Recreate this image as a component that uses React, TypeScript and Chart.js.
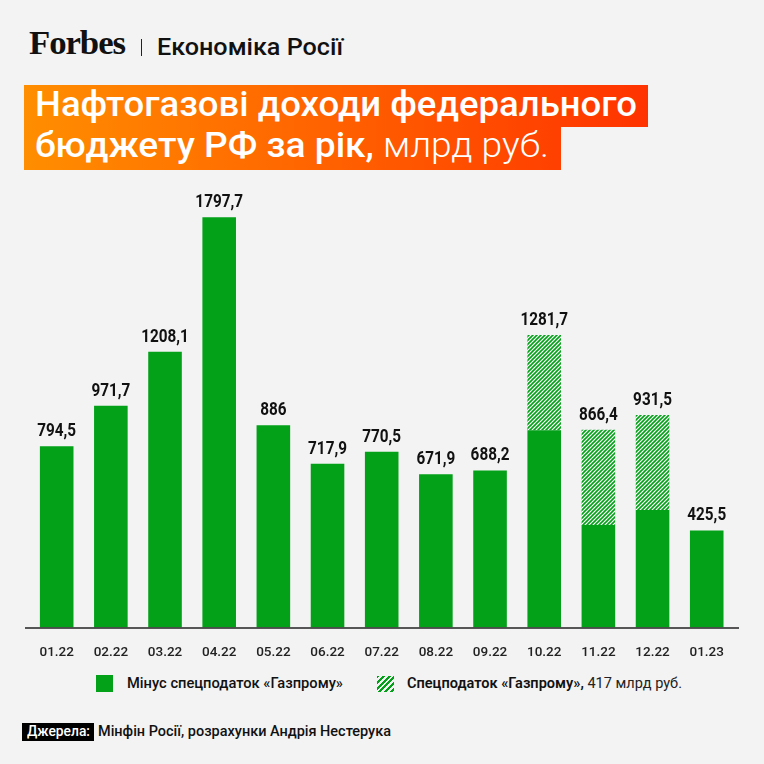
import React, { useEffect, useLayoutEffect, useRef } from "react";
import { Chart, registerables } from "chart.js";

Chart.register(...registerables);

// ---- data ----
const months = ["01.22", "02.22", "03.22", "04.22", "05.22", "06.22", "07.22", "08.22", "09.22", "10.22", "11.22", "12.22", "01.23"];
const minusGazprom = [794.5, 971.7, 1208.1, 1797.7, 886, 717.9, 770.5, 671.9, 688.2, 864.7, 449.4, 514.5, 425.5];
const gazpromTax = [null, null, null, null, null, null, null, null, null, 417, 417, 417, null];
const yMax = 1900;

const GREEN = "#02A118";
const BG = "#F3F3F3";
const FONT = "Roboto, 'Noto Sans', sans-serif";

function fmt(v: number) {
  const r = Math.round(v * 10) / 10;
  return String(r).replace(".", ",");
}

function makePattern(): CanvasPattern | string {
  const s = 4;
  const c = document.createElement("canvas");
  c.width = s;
  c.height = s;
  const g = c.getContext("2d");
  if (!g) return GREEN;
  g.fillStyle = "#ffffff";
  g.fillRect(0, 0, s, s);
  g.strokeStyle = GREEN;
  g.lineWidth = 1.6;
  g.beginPath();
  g.moveTo(-1, s + 1);
  g.lineTo(s + 1, -1);
  g.moveTo(-1, 1);
  g.lineTo(1, -1);
  g.moveTo(s - 1, s + 1);
  g.lineTo(s + 1, s - 1);
  g.stroke();
  const p = g.createPattern(c, "repeat");
  return p || GREEN;
}

const totalLabels = {
  id: "totalLabels",
  afterDatasetsDraw(chart: any) {
    const ctx = chart.ctx;
    const meta = chart.getDatasetMeta(0);
    const y = chart.scales.y;
    ctx.save();
    ctx.font = `700 18px ${FONT}`;
    ctx.fillStyle = "#111";
    ctx.textAlign = "center";
    ctx.textBaseline = "alphabetic";
    months.forEach((_, i) => {
      const total = minusGazprom[i] + (gazpromTax[i] ?? 0);
      const py = y.getPixelForValue(total) - 10;
      const px = meta.data[i].x;
      ctx.save();
      ctx.translate(px, py);
      ctx.scale(0.85, 1);
      ctx.fillText(fmt(total), 0, 0);
      ctx.restore();
    });
    ctx.restore();
  },
};

const baseLine = {
  id: "baseLine",
  afterDatasetsDraw(chart: any) {
    const { ctx, chartArea } = chart;
    ctx.save();
    ctx.strokeStyle = "#222";
    ctx.lineWidth = 1.5;
    ctx.beginPath();
    ctx.moveTo(chartArea.left - 4.6, chartArea.bottom + 0.5);
    ctx.lineTo(chartArea.right + 5.2, chartArea.bottom + 0.5);
    ctx.stroke();
    ctx.restore();
  },
};

function Fit({ w, style, children }: { w: number; style?: React.CSSProperties; children: React.ReactNode }) {
  const ref = useRef<HTMLSpanElement>(null);
  useLayoutEffect(() => {
    const el = ref.current;
    if (!el) return;
    const apply = () => {
      el.style.transform = "none";
      const nat = el.getBoundingClientRect().width;
      if (nat > 0) el.style.transform = `scaleX(${w / nat})`;
    };
    apply();
    (document as any).fonts?.ready?.then(apply);
  }, [w]);
  return (
    <span ref={ref} style={{ display: "inline-block", whiteSpace: "nowrap", transformOrigin: "0 0", ...style }}>
      {children}
    </span>
  );
}

function ChartBox() {
  const ref = useRef<HTMLCanvasElement>(null);
  useEffect(() => {
    if (!ref.current) return;
    const pattern = makePattern();
    const chart = new Chart(ref.current, {
      type: "bar",
      data: {
        labels: months,
        datasets: [
          { label: "Мінус спецподаток «Газпрому»", data: minusGazprom, backgroundColor: GREEN, borderWidth: 0 },
          { label: "Спецподаток «Газпрому»", data: gazpromTax as any, backgroundColor: pattern as any, borderWidth: 0 },
        ],
      },
      options: {
        animation: false,
        responsive: true,
        maintainAspectRatio: false,
        layout: { padding: { left: 29.6, right: 30.2, top: 627.5 - 180 - yMax * 0.2282, bottom: 0 } },
        datasets: { bar: { barPercentage: 0.62, categoryPercentage: 1 } },
        plugins: { legend: { display: false }, tooltip: { enabled: false } },
        scales: {
          x: {
            stacked: true,
            grid: { display: false },
            border: { display: false },
            ticks: { color: "#222", font: { family: FONT, size: 13.5, weight: 500 as any }, padding: 9, maxRotation: 0 },
            afterFit: (s: any) => {
              s.height = 32.5;
            },
          },
          y: { stacked: true, display: false, min: 0, max: yMax },
        },
      },
      plugins: [totalLabels, baseLine],
    });
    return () => chart.destroy();
  }, []);
  return (
    <div style={{ position: "absolute", left: 0, top: 180, width: 764, height: 480 }}>
      <canvas ref={ref} />
    </div>
  );
}

export default function App() {
  const grad = "linear-gradient(to right, #FF8E00, #FF3300)";
  const small: React.CSSProperties = { position: "absolute", lineHeight: "15.5px", fontSize: 15.5, fontWeight: 500, color: "#111" };
  return (
    <div style={{ position: "fixed", left: 0, top: 0, width: 764, height: 764, background: BG, overflow: "hidden", fontFamily: FONT }}>
      {/* header */}
      <div style={{ position: "absolute", left: 29, top: 27.4, lineHeight: "33px", fontSize: 33, fontFamily: "'Liberation Serif', serif", fontWeight: 700, color: "#111" }}>
        <Fit w={96} style={{ letterSpacing: -1 }}>Forbes</Fit>
      </div>
      <div style={{ position: "absolute", left: 140.5, top: 39, width: 1.6, height: 17, background: "#222" }} />
      <div style={{ position: "absolute", left: 157, top: 34.8, lineHeight: "24px", fontSize: 24, fontWeight: 500, color: "#111" }}>
        <Fit w={186}>Економіка Росії</Fit>
      </div>

      {/* title */}
      <div style={{ position: "absolute", left: 24, top: 85, width: 624, height: 42, background: grad, backgroundSize: "624px 100%" }} />
      <div style={{ position: "absolute", left: 24, top: 126.7, width: 537, height: 43.3, background: grad, backgroundSize: "624px 100%", backgroundRepeat: "no-repeat" }} />
      <div style={{ position: "absolute", left: 35, top: 87.2, lineHeight: "35px", fontSize: 35, fontWeight: 500, color: "#fff" }}>
        <Fit w={602}>Нафтогазові доходи федерального</Fit>
      </div>
      <div style={{ position: "absolute", left: 35, top: 127.5, lineHeight: "35px", fontSize: 35, fontWeight: 500, color: "#fff" }}>
        <Fit w={514}>
          бюджету РФ за рік,<span style={{ fontWeight: 300 }}> млрд руб.</span>
        </Fit>
      </div>

      <ChartBox />

      {/* legend */}
      <div style={{ position: "absolute", left: 96, top: 675, width: 16.5, height: 16.5, background: GREEN }} />
      <div style={{ ...small, left: 126.7, top: 676.2 }}>
        <Fit w={216}>Мінус спецподаток «Газпрому»</Fit>
      </div>
      <div
        style={{
          position: "absolute",
          left: 377,
          top: 675.5,
          width: 16.5,
          height: 16.5,
          background: `repeating-linear-gradient(135deg, ${GREEN} 0 2px, transparent 2px 4px)`,
        }}
      />
      <div style={{ ...small, left: 407.3, top: 676.2, fontWeight: 600 }}>
        <Fit w={275}>
          Спецподаток «Газпрому»,<span style={{ fontWeight: 400, color: "#222" }}> 417 млрд руб.</span>
        </Fit>
      </div>

      {/* footer */}
      <div style={{ position: "absolute", left: 22.3, top: 723, width: 71.7, height: 17.5, background: "#000" }} />
      <div style={{ ...small, left: 26.7, top: 723.9, color: "#fff" }}>
        <Fit w={63}>Джерела:</Fit>
      </div>
      <div style={{ ...small, left: 98.3, top: 723.9 }}>
        <Fit w={293}>Мінфін Росії, розрахунки Андрія Нестерука</Fit>
      </div>
    </div>
  );
}
